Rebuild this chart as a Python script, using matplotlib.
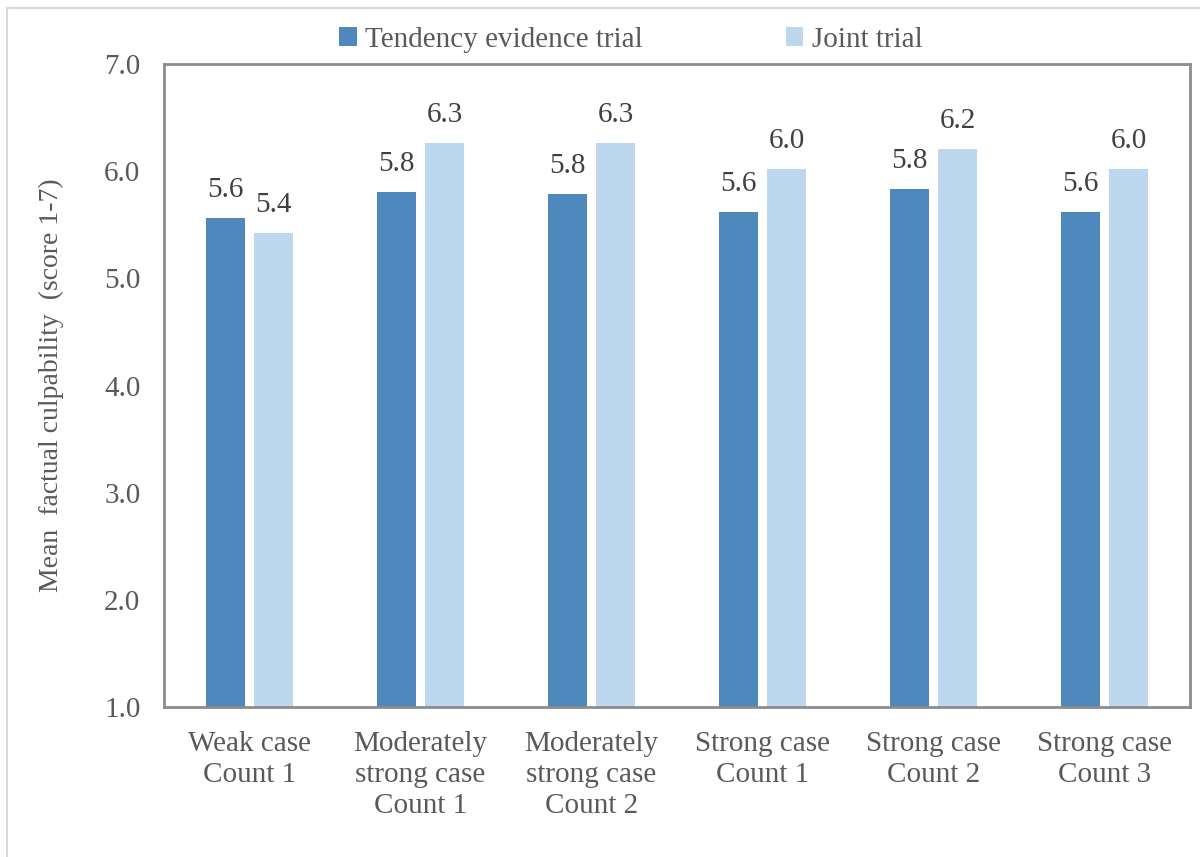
import matplotlib.pyplot as plt
import numpy as np
from matplotlib.patches import Rectangle

plt.rcParams['font.family'] = ['Liberation Serif', 'DejaVu Serif']

categories = ['Weak case\nCount 1', 'Moderately\nstrong case\nCount 1', 'Moderately\nstrong case\nCount 2',
              'Strong case\nCount 1', 'Strong case\nCount 2', 'Strong case\nCount 3']
tendency = [5.56, 5.81, 5.79, 5.62, 5.83, 5.62]
joint = [5.42, 6.26, 6.26, 6.02, 6.21, 6.02]
series_names = ['Tendency evidence trial', 'Joint trial']

dark = '#4F88BC'
light = '#BDD7EE'
txt = '#595959'

fig = plt.figure(figsize=(12, 8.57), dpi=100)
ax = fig.add_axes([164/1200, 1-707/857, (1190-164)/1200, (707-64)/857])

# light grey chart frame like excel
fig.patches.append(Rectangle((7/1200, -0.05), 1.2, 1-8/857+0.05, transform=fig.transFigure,
                             fill=False, edgecolor='#D9D9D9', linewidth=1.5))

x = np.arange(len(categories))
w = 0.23
off = 0.14
b1 = ax.bar(x-off, np.array(tendency)-1, w, bottom=1, color=dark, label=series_names[0])
b2 = ax.bar(x+off, np.array(joint)-1, w, bottom=1, color=light, label=series_names[1])

for xs, vals in [(x-off, tendency), (x+off, joint)]:
    for xi, v in zip(xs, vals):
        ax.annotate('%.1f' % v, (xi, v), xytext=(0, 15), textcoords='offset pixels',
                    ha='center', va='bottom', fontsize=21, color='#404040')

ax.set_ylim(1, 7)
ax.set_xlim(-0.5, len(categories)-0.5)
ax.set_yticks(np.arange(1, 7.1, 1))
ax.set_yticklabels(['%.1f' % t for t in np.arange(1, 7.1, 1)])
ax.set_xticks(x)
ax.set_xticklabels(categories, linespacing=1.25)
ax.tick_params(length=0, labelsize=21, labelcolor=txt)
ax.tick_params(axis='y', pad=17)
ax.tick_params(axis='x', pad=17)
for s in ax.spines.values():
    s.set_color('#8C8C8C')
    s.set_linewidth(2)

ax.set_ylabel('Mean  factual culpability  (score 1-7)', fontsize=20, color=txt, labelpad=29)

fig.legend(handles=[b1, b2], loc='center', bbox_to_anchor=(631/1200, 1-40/857), ncol=2,
           frameon=False, fontsize=21, labelcolor=txt, handlelength=0.6, handleheight=0.6,
           handletextpad=0.3, columnspacing=4.9)

fig.savefig('out.png', dpi=100)
